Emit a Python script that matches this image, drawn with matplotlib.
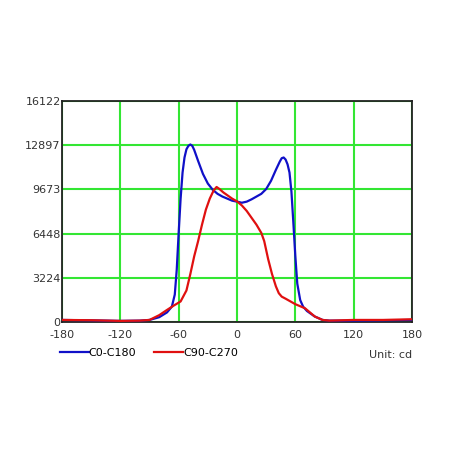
import numpy as np
import matplotlib.pyplot as plt

plt.rcParams['axes.unicode_minus'] = False

# ---- data ----
angles_c0 = [-180, -150, -120, -100, -90, -80, -72, -67, -64, -62, -60, -58, -56, -54, -52, -50,
             -48, -46, -44, -42, -40, -35, -30, -25, -20, -15, -10, -5, 0, 5, 10, 15, 20, 25,
             30, 35, 40, 44, 46, 48, 50, 52, 54, 56, 58, 60, 62, 65, 68, 72, 80, 88, 95, 120,
             150, 180]
c0_c180 = [150, 120, 80, 100, 150, 350, 700, 1120, 2000, 3800, 6500, 9000, 10900, 12000, 12600,
           12850, 12950, 12850, 12550, 12150, 11750, 10800, 10100, 9650, 9350, 9150, 9000, 8850,
           8780, 8700, 8780, 8950, 9150, 9350, 9700, 10300, 11100, 11700, 11950, 12000, 11850,
           11500, 10900, 9500, 7200, 4800, 2800, 1600, 1120, 800, 400, 150, 100, 100, 120, 150]

angles_c90 = [-180, -150, -120, -100, -90, -80, -72, -65, -58, -52, -48, -44, -40, -36, -32,
              -28, -24, -21, -18, -14, -10, -5, 0, 5, 10, 15, 20, 25, 28, 32, 36, 40, 43, 46,
              50, 55, 60, 65, 70, 75, 80, 88, 95, 120, 150, 180]
c90_c270 = [150, 130, 80, 100, 150, 500, 880, 1200, 1500, 2300, 3500, 4800, 5900, 7100, 8200,
            9000, 9600, 9850, 9700, 9450, 9250, 9000, 8800, 8500, 8100, 7600, 7100, 6500, 5900,
            4600, 3500, 2600, 2100, 1850, 1700, 1500, 1300, 1150, 1000, 700, 400, 150, 100, 150,
            150, 200]

x_ticks = [-180, -120, -60, 0, 60, 120, 180]
y_ticks = [0, 3224, 6448, 9673, 12897, 16122]

fig = plt.figure(figsize=(4.58, 4.58), dpi=100)
ax = fig.add_axes([62 / 458, 136 / 458, 350 / 458, 221 / 458])

ax.plot(angles_c0, c0_c180, color='#1010c8', lw=1.6, label='C0-C180', zorder=3)
ax.plot(angles_c90, c90_c270, color='#e01010', lw=1.6, label='C90-C270', zorder=3)

ax.set_xlim(-180, 180)
ax.set_ylim(0, 16122)
ax.set_xticks(x_ticks)
ax.set_yticks(y_ticks)
ax.set_yticklabels([str(v) for v in y_ticks])
ax.grid(True, color='#33e633', lw=1.5)
ax.set_axisbelow(True)
ax.tick_params(length=0, labelsize=8, colors='#333333')
ax.tick_params(axis='x', pad=6)
ax.tick_params(axis='y', pad=1)
for s in ax.spines.values():
    s.set_color('#222222')
    s.set_linewidth(1.3)

ax.legend(loc='center left', bbox_to_anchor=(-0.035, -0.14), ncol=2, frameon=False,
          fontsize=8, handlelength=2.6, handletextpad=0, columnspacing=1.6)
fig.text(412 / 458, 1 - 355 / 458, 'Unit: cd', ha='right', va='center', fontsize=8,
         color='#333333')

fig.savefig('out.png', dpi=100, facecolor='white')
